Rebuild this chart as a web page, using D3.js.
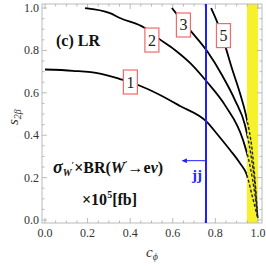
<!DOCTYPE html>
<html>
<head>
<meta charset="utf-8">
<script src="https://cdn.jsdelivr.net/npm/d3@7"></script>
<style>
  html, body { margin: 0; padding: 0; background: #fff; }
  svg { display: block; }
  .tick-label { font-family: "Liberation Serif", "DejaVu Serif", serif; font-size: 12px; fill: #333; }
  .bold { font-family: "Liberation Serif", serif; font-weight: bold; }
</style>
</head>
<body>
<svg id="chart" width="266" height="266"></svg>
<script>
// ── Data ────────────────────────────────────────────────────
const xTicks = [0, 0.2, 0.4, 0.6, 0.8, 1.0];
const yTicks = [0, 0.2, 0.4, 0.6, 0.8, 1.0];
const tickFmt = d3.format('.1f');

const contourLevels = ['1', '2', '3', '5'];
// contour lines, [c_phi, s_2beta]
const curve1 = [[0.000, 0.710], [0.131, 0.704], [0.258, 0.691], [0.352, 0.665], [0.437, 0.637],
                [0.540, 0.590], [0.634, 0.538], [0.761, 0.462], [0.812, 0.401], [0.869, 0.330],
                [0.915, 0.269], [0.948, 0.212], [0.972, 0.118], [0.999, 0.010]];
const curve2 = [[0.188, 1.000], [0.305, 0.976], [0.352, 0.953], [0.469, 0.906], [0.531, 0.858],
                [0.610, 0.802], [0.681, 0.741], [0.761, 0.651], [0.845, 0.542], [0.930, 0.377],
                [0.962, 0.259], [0.986, 0.118], [0.999, 0.010]];
const curve3 = [[0.596, 1.000], [0.615, 0.976], [0.681, 0.896], [0.761, 0.797], [0.831, 0.684],
                [0.892, 0.566], [0.939, 0.448], [0.967, 0.307], [0.986, 0.165], [0.999, 0.010]];
const curve5 = [[0.780, 1.000], [0.812, 0.925], [0.845, 0.825], [0.878, 0.715], [0.915, 0.600],
                [0.948, 0.475], [0.972, 0.335], [0.986, 0.190], [0.999, 0.010]];
const curves = [curve1, curve2, curve3, curve5];
// where each contour label box sits
const labelPos = [[0.401, 0.651], [0.502, 0.849], [0.650, 0.920], [0.838, 0.870]];

const jjCut = 0.756;            // dijet bound on c_phi
const jjArrow = [0.756, 0.645, 0.28]; // from c, to c, at s
const band = [0.948, 1.0];      // yellow band in c_phi

// ── Layout ─────────────────────────────────────────────────
const svg = d3.select('#chart');
const x = d3.scaleLinear().domain([-0.014, 1.019]).range([42, 262]);
const y = d3.scaleLinear().domain([-0.014, 1.019]).range([223, 4]);
const [x0, x1] = x.range();
const [y0, y1] = y.range();

const defs = svg.append('defs');
defs.append('clipPath').attr('id', 'plot')
    .append('rect').attr('x', x0).attr('y', y1).attr('width', x1 - x0).attr('height', y0 - y1);
defs.append('clipPath').attr('id', 'outside-band')
    .append('rect').attr('x', x0).attr('y', y1).attr('width', x(band[0]) - x0).attr('height', y0 - y1);
defs.append('clipPath').attr('id', 'inside-band')
    .append('rect').attr('x', x(band[0])).attr('y', y1).attr('width', x1 - x(band[0])).attr('height', y0 - y1);
defs.append('marker')
    .attr('id', 'arrowhead')
    .attr('viewBox', '0 -5 10 10')
    .attr('refX', 9).attr('refY', 0)
    .attr('markerWidth', 7).attr('markerHeight', 5)
    .attr('markerUnits', 'userSpaceOnUse')
    .attr('orient', 'auto')
    .append('path').attr('d', 'M0,-5L10,0L0,5Z').attr('fill', '#1f1fff');

// yellow band
svg.append('rect')
    .attr('x', x(band[0])).attr('y', y1)
    .attr('width', x(band[1]) - x(band[0])).attr('height', y0 - y1)
    .attr('fill', '#f7f12c');

// ── Frame + ticks ──────────────────────────────────────────
const frame = svg.append('g');
frame.append('rect')
    .attr('x', x0).attr('y', y1).attr('width', x1 - x0).attr('height', y0 - y1)
    .attr('fill', 'none').attr('stroke', '#bbb').attr('stroke-width', 1);

const minor = d3.range(0, 1.0001, 0.05);
const isMajor = v => Math.abs(v * 5 - Math.round(v * 5)) < 1e-6;
minor.forEach(v => {
    const len = isMajor(v) ? 5 : 2.5;
    const px = x(v), py = y(v);
    frame.append('line').attr('x1', px).attr('x2', px).attr('y1', y0).attr('y2', y0 - len);
    frame.append('line').attr('x1', px).attr('x2', px).attr('y1', y1).attr('y2', y1 + len);
    frame.append('line').attr('y1', py).attr('y2', py).attr('x1', x0).attr('x2', x0 + len);
    frame.append('line').attr('y1', py).attr('y2', py).attr('x1', x1).attr('x2', x1 - len);
});
frame.selectAll('line').attr('stroke', '#aaa').attr('stroke-width', 0.8);

svg.append('g').selectAll('text').data(xTicks).join('text')
    .attr('class', 'tick-label')
    .attr('x', d => x(d)).attr('y', 237)
    .attr('text-anchor', 'middle')
    .text(tickFmt);
svg.append('g').selectAll('text').data(yTicks).join('text')
    .attr('class', 'tick-label')
    .attr('x', 39).attr('y', d => y(d) + 4)
    .attr('text-anchor', 'end')
    .text(tickFmt);

// axis titles
const xt = svg.append('text')
    .attr('x', 146).attr('y', 257)
    .attr('font-family', 'Liberation Serif, serif').attr('font-style', 'italic')
    .attr('font-size', 15).attr('fill', '#333');
xt.append('tspan').text('c');
xt.append('tspan').attr('font-size', 10).attr('dy', 3).text('ϕ');

const yt = svg.append('text')
    .attr('transform', 'translate(18,125) rotate(-90)')
    .attr('font-family', 'Liberation Serif, serif').attr('font-style', 'italic')
    .attr('font-size', 15).attr('fill', '#333');
yt.append('tspan').text('s');
yt.append('tspan').attr('font-size', 10).attr('dy', 3).text('2β');

// ── Contours ───────────────────────────────────────────────
const line = d3.line().x(d => x(d[0])).y(d => y(d[1])).curve(d3.curveMonotoneX);

const curveLayer = svg.append('g').attr('clip-path', 'url(#plot)');
curveLayer.append('g').attr('clip-path', 'url(#outside-band)')
    .selectAll('path').data(curves).join('path')
    .attr('d', line).attr('fill', 'none')
    .attr('stroke', '#000').attr('stroke-width', 1.8);
curveLayer.append('g').attr('clip-path', 'url(#inside-band)')
    .selectAll('path').data(curves).join('path')
    .attr('d', line).attr('fill', 'none')
    .attr('stroke', '#222').attr('stroke-width', 1.4)
    .attr('stroke-dasharray', '3,2');

// dijet bound
svg.append('line')
    .attr('x1', x(jjCut)).attr('x2', x(jjCut)).attr('y1', y1).attr('y2', y0)
    .attr('stroke', '#1f1fff').attr('stroke-width', 2);
svg.append('line')
    .attr('x1', x(jjArrow[0])).attr('x2', x(jjArrow[1]))
    .attr('y1', y(jjArrow[2])).attr('y2', y(jjArrow[2]))
    .attr('stroke', '#1f1fff').attr('stroke-width', 1)
    .attr('marker-end', 'url(#arrowhead)');
svg.append('text').attr('class', 'bold')
    .attr('x', x(jjCut) - 4).attr('y', 180)
    .attr('text-anchor', 'end').attr('font-size', 15).attr('fill', '#1f1fff')
    .text('jj');

// contour labels
const labels = svg.append('g').selectAll('g').data(contourLevels).join('g')
    .attr('transform', (d, i) => `translate(${x(labelPos[i][0])},${y(labelPos[i][1])})`);
labels.append('rect')
    .attr('x', -7).attr('y', -12).attr('width', 14).attr('height', 24)
    .attr('fill', '#fff').attr('stroke', '#f06a6a').attr('stroke-width', 1.2);
labels.append('text')
    .attr('text-anchor', 'middle').attr('y', 5.5)
    .attr('font-family', 'Liberation Serif, serif').attr('font-size', 16).attr('fill', '#222')
    .text(d => d);

// ── Annotations ───────────────────────────────────────────
svg.append('text').attr('class', 'bold')
    .attr('x', 56).attr('y', 46).attr('font-size', 16).attr('fill', '#111')
    .text('(c) LR');

const f1 = svg.append('text').attr('class', 'bold')
    .attr('x', 53).attr('y', 173).attr('font-size', 16).attr('fill', '#111');
f1.append('tspan').attr('font-style', 'italic').attr('font-size', 18).text('σ');
f1.append('tspan').attr('font-style', 'italic').attr('font-size', 10).attr('dy', 3).text('W');
f1.append('tspan').attr('font-size', 9).attr('dy', -8).text('′');
f1.append('tspan').attr('dy', 5).text('×BR(');
f1.append('tspan').attr('font-style', 'italic').text('W');
f1.append('tspan').attr('font-size', 9).attr('dy', -6).text('′');
f1.append('tspan').attr('dy', 6).text('→e');
f1.append('tspan').attr('font-style', 'italic').text('ν');
f1.append('tspan').text(')');

const f2 = svg.append('text').attr('class', 'bold')
    .attr('x', 82).attr('y', 205).attr('font-size', 16).attr('fill', '#111');
f2.append('tspan').text('×10');
f2.append('tspan').attr('font-size', 10).attr('dy', -7).text('5');
f2.append('tspan').attr('dy', 7).text('[fb]');
</script>
</body>
</html>
